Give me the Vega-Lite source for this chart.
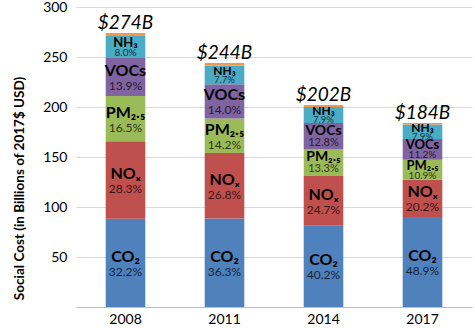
{
  "$schema": "https://vega.github.io/schema/vega-lite/v6.json",
  "width": 396,
  "height": 300,
  "autosize": "none",
  "padding": {"left": 76, "top": 7, "right": 3, "bottom": 21},
  "background": "white",
  "config": {"font": "Lato", "view": {"stroke": null}},
  "datasets": {
    "segments": [
      {"year": "2008", "pollutant": "CO2", "label": "CO₂", "pct": "32.2%", "value": 88.2, "order": 1},
      {"year": "2008", "pollutant": "NOx", "label": "NOₓ", "pct": "28.3%", "value": 77.5, "order": 2},
      {"year": "2008", "pollutant": "PM2.5", "label": "PM₂.₅", "pct": "16.5%", "value": 45.2, "order": 3},
      {"year": "2008", "pollutant": "VOCs", "label": "VOCs", "pct": "13.9%", "value": 38.1, "order": 4},
      {"year": "2008", "pollutant": "NH3", "label": "NH₃", "pct": "8.0%", "value": 21.9, "order": 5},
      {"year": "2008", "pollutant": "Other", "label": "", "pct": "", "value": 3.1, "order": 6},
      {"year": "2011", "pollutant": "CO2", "label": "CO₂", "pct": "36.3%", "value": 88.6, "order": 1},
      {"year": "2011", "pollutant": "NOx", "label": "NOₓ", "pct": "26.8%", "value": 65.4, "order": 2},
      {"year": "2011", "pollutant": "PM2.5", "label": "PM₂.₅", "pct": "14.2%", "value": 34.6, "order": 3},
      {"year": "2011", "pollutant": "VOCs", "label": "VOCs", "pct": "14.0%", "value": 34.2, "order": 4},
      {"year": "2011", "pollutant": "NH3", "label": "NH₃", "pct": "7.7%", "value": 18.8, "order": 5},
      {"year": "2011", "pollutant": "Other", "label": "", "pct": "", "value": 2.4, "order": 6},
      {"year": "2014", "pollutant": "CO2", "label": "CO₂", "pct": "40.2%", "value": 81.2, "order": 1},
      {"year": "2014", "pollutant": "NOx", "label": "NOₓ", "pct": "24.7%", "value": 49.9, "order": 2},
      {"year": "2014", "pollutant": "PM2.5", "label": "PM₂.₅", "pct": "13.3%", "value": 26.9, "order": 3},
      {"year": "2014", "pollutant": "VOCs", "label": "VOCs", "pct": "12.8%", "value": 25.9, "order": 4},
      {"year": "2014", "pollutant": "NH3", "label": "NH₃", "pct": "7.9%", "value": 16.0, "order": 5},
      {"year": "2014", "pollutant": "Other", "label": "", "pct": "", "value": 2.1, "order": 6},
      {"year": "2017", "pollutant": "CO2", "label": "CO₂", "pct": "48.9%", "value": 90.0, "order": 1},
      {"year": "2017", "pollutant": "NOx", "label": "NOₓ", "pct": "20.2%", "value": 37.2, "order": 2},
      {"year": "2017", "pollutant": "PM2.5", "label": "PM₂.₅", "pct": "10.9%", "value": 20.1, "order": 3},
      {"year": "2017", "pollutant": "VOCs", "label": "VOCs", "pct": "11.2%", "value": 20.6, "order": 4},
      {"year": "2017", "pollutant": "NH3", "label": "NH₃", "pct": "7.9%", "value": 14.5, "order": 5},
      {"year": "2017", "pollutant": "Other", "label": "", "pct": "", "value": 1.6, "order": 6}
    ],
    "totals": [
      {"year": "2008", "total": 274, "text": "$274B"},
      {"year": "2011", "total": 244, "text": "$244B"},
      {"year": "2014", "total": 202, "text": "$202B"},
      {"year": "2017", "total": 184, "text": "$184B"}
    ]
  },
  "encoding": {
    "x": {
      "field": "year", "type": "nominal", "title": null,
      "scale": {"paddingInner": 0.6, "paddingOuter": 0.3},
      "axis": {"labelAngle": 0, "labelFontSize": 14, "labelColor": "#000000", "labelPadding": 5, "ticks": false, "domainColor": "#bfbfbf", "domainWidth": 1}
    }
  },
  "layer": [
    {
      "data": {"name": "segments"},
      "transform": [
        {"stack": "value", "groupby": ["year"], "sort": [{"field": "order", "order": "ascending"}], "as": ["y0", "y1"]}
      ],
      "mark": {"type": "bar"},
      "encoding": {
        "y": {
          "field": "y0", "type": "quantitative",
          "scale": {"domain": [0, 300], "nice": false},
          "title": "Social Cost (in Billions of 2017$ USD)",
          "axis": {
            "values": [0, 50, 100, 150, 200, 250, 300],
            "labelExpr": "datum.value == 0 ? '' : datum.label",
            "labelFontSize": 14, "labelColor": "#000000", "labelPadding": 9,
            "ticks": false, "domain": false,
            "gridColor": "#d9d9d9", "gridWidth": 1,
            "titleFontSize": 13.5, "titleFontWeight": "bold", "titleColor": "#000000", "titlePadding": 16,
            "titleAnchor": "middle", "titleY": 181
          }
        },
        "y2": {"field": "y1"},
        "color": {
          "field": "pollutant", "type": "nominal", "legend": null,
          "scale": {
            "domain": ["CO2", "NOx", "PM2.5", "VOCs", "NH3", "Other"],
            "range": ["#4f81bd", "#c0504d", "#9bbb59", "#8064a2", "#4bacc6", "#f79646"]
          }
        }
      }
    },
    {
      "data": {"name": "segments"},
      "transform": [
        {"stack": "value", "groupby": ["year"], "sort": [{"field": "order", "order": "ascending"}], "as": ["y0", "y1"]},
        {"calculate": "(datum.y0 + datum.y1) / 2", "as": "mid"},
        {"filter": "datum.label != '' && datum.value >= 30"}
      ],
      "layer": [
        {
          "mark": {"type": "text", "fontWeight": "bold", "fontSize": 16, "dy": -6, "color": "#000000"},
          "encoding": {"y": {"field": "mid", "type": "quantitative"}, "text": {"field": "label"}}
        },
        {
          "mark": {"type": "text", "fontSize": 12, "dy": 9, "color": "#000000", "opacity": 0.72},
          "encoding": {"y": {"field": "mid", "type": "quantitative"}, "text": {"field": "pct"}}
        }
      ]
    },
    {
      "data": {"name": "segments"},
      "transform": [
        {"stack": "value", "groupby": ["year"], "sort": [{"field": "order", "order": "ascending"}], "as": ["y0", "y1"]},
        {"calculate": "(datum.y0 + datum.y1) / 2", "as": "mid"},
        {"filter": "datum.label != '' && datum.value >= 24 && datum.value < 30"}
      ],
      "layer": [
        {
          "mark": {"type": "text", "fontWeight": "bold", "fontSize": 14, "dy": -5, "color": "#000000"},
          "encoding": {"y": {"field": "mid", "type": "quantitative"}, "text": {"field": "label"}}
        },
        {
          "mark": {"type": "text", "fontSize": 11, "dy": 7, "color": "#000000", "opacity": 0.72},
          "encoding": {"y": {"field": "mid", "type": "quantitative"}, "text": {"field": "pct"}}
        }
      ]
    },
    {
      "data": {"name": "segments"},
      "transform": [
        {"stack": "value", "groupby": ["year"], "sort": [{"field": "order", "order": "ascending"}], "as": ["y0", "y1"]},
        {"calculate": "(datum.y0 + datum.y1) / 2", "as": "mid"},
        {"filter": "datum.label != '' && datum.value >= 19 && datum.value < 24"}
      ],
      "layer": [
        {
          "mark": {"type": "text", "fontWeight": "bold", "fontSize": 13, "dy": -4, "color": "#000000"},
          "encoding": {"y": {"field": "mid", "type": "quantitative"}, "text": {"field": "label"}}
        },
        {
          "mark": {"type": "text", "fontSize": 10, "dy": 6, "color": "#000000", "opacity": 0.72},
          "encoding": {"y": {"field": "mid", "type": "quantitative"}, "text": {"field": "pct"}}
        }
      ]
    },
    {
      "data": {"name": "segments"},
      "transform": [
        {"stack": "value", "groupby": ["year"], "sort": [{"field": "order", "order": "ascending"}], "as": ["y0", "y1"]},
        {"calculate": "(datum.y0 + datum.y1) / 2", "as": "mid"},
        {"filter": "datum.label != '' && datum.value < 19"}
      ],
      "layer": [
        {
          "mark": {"type": "text", "fontWeight": "bold", "fontSize": 12, "dy": -4, "color": "#000000"},
          "encoding": {"y": {"field": "mid", "type": "quantitative"}, "text": {"field": "label"}}
        },
        {
          "mark": {"type": "text", "fontSize": 9.5, "dy": 5, "color": "#000000", "opacity": 0.72},
          "encoding": {"y": {"field": "mid", "type": "quantitative"}, "text": {"field": "pct"}}
        }
      ]
    },
    {
      "data": {"name": "totals"},
      "mark": {"type": "text", "fontSize": 19, "fontStyle": "italic", "baseline": "bottom", "dy": 0, "color": "#000000"},
      "encoding": {
        "y": {"field": "total", "type": "quantitative"},
        "text": {"field": "text"}
      }
    }
  ]
}
